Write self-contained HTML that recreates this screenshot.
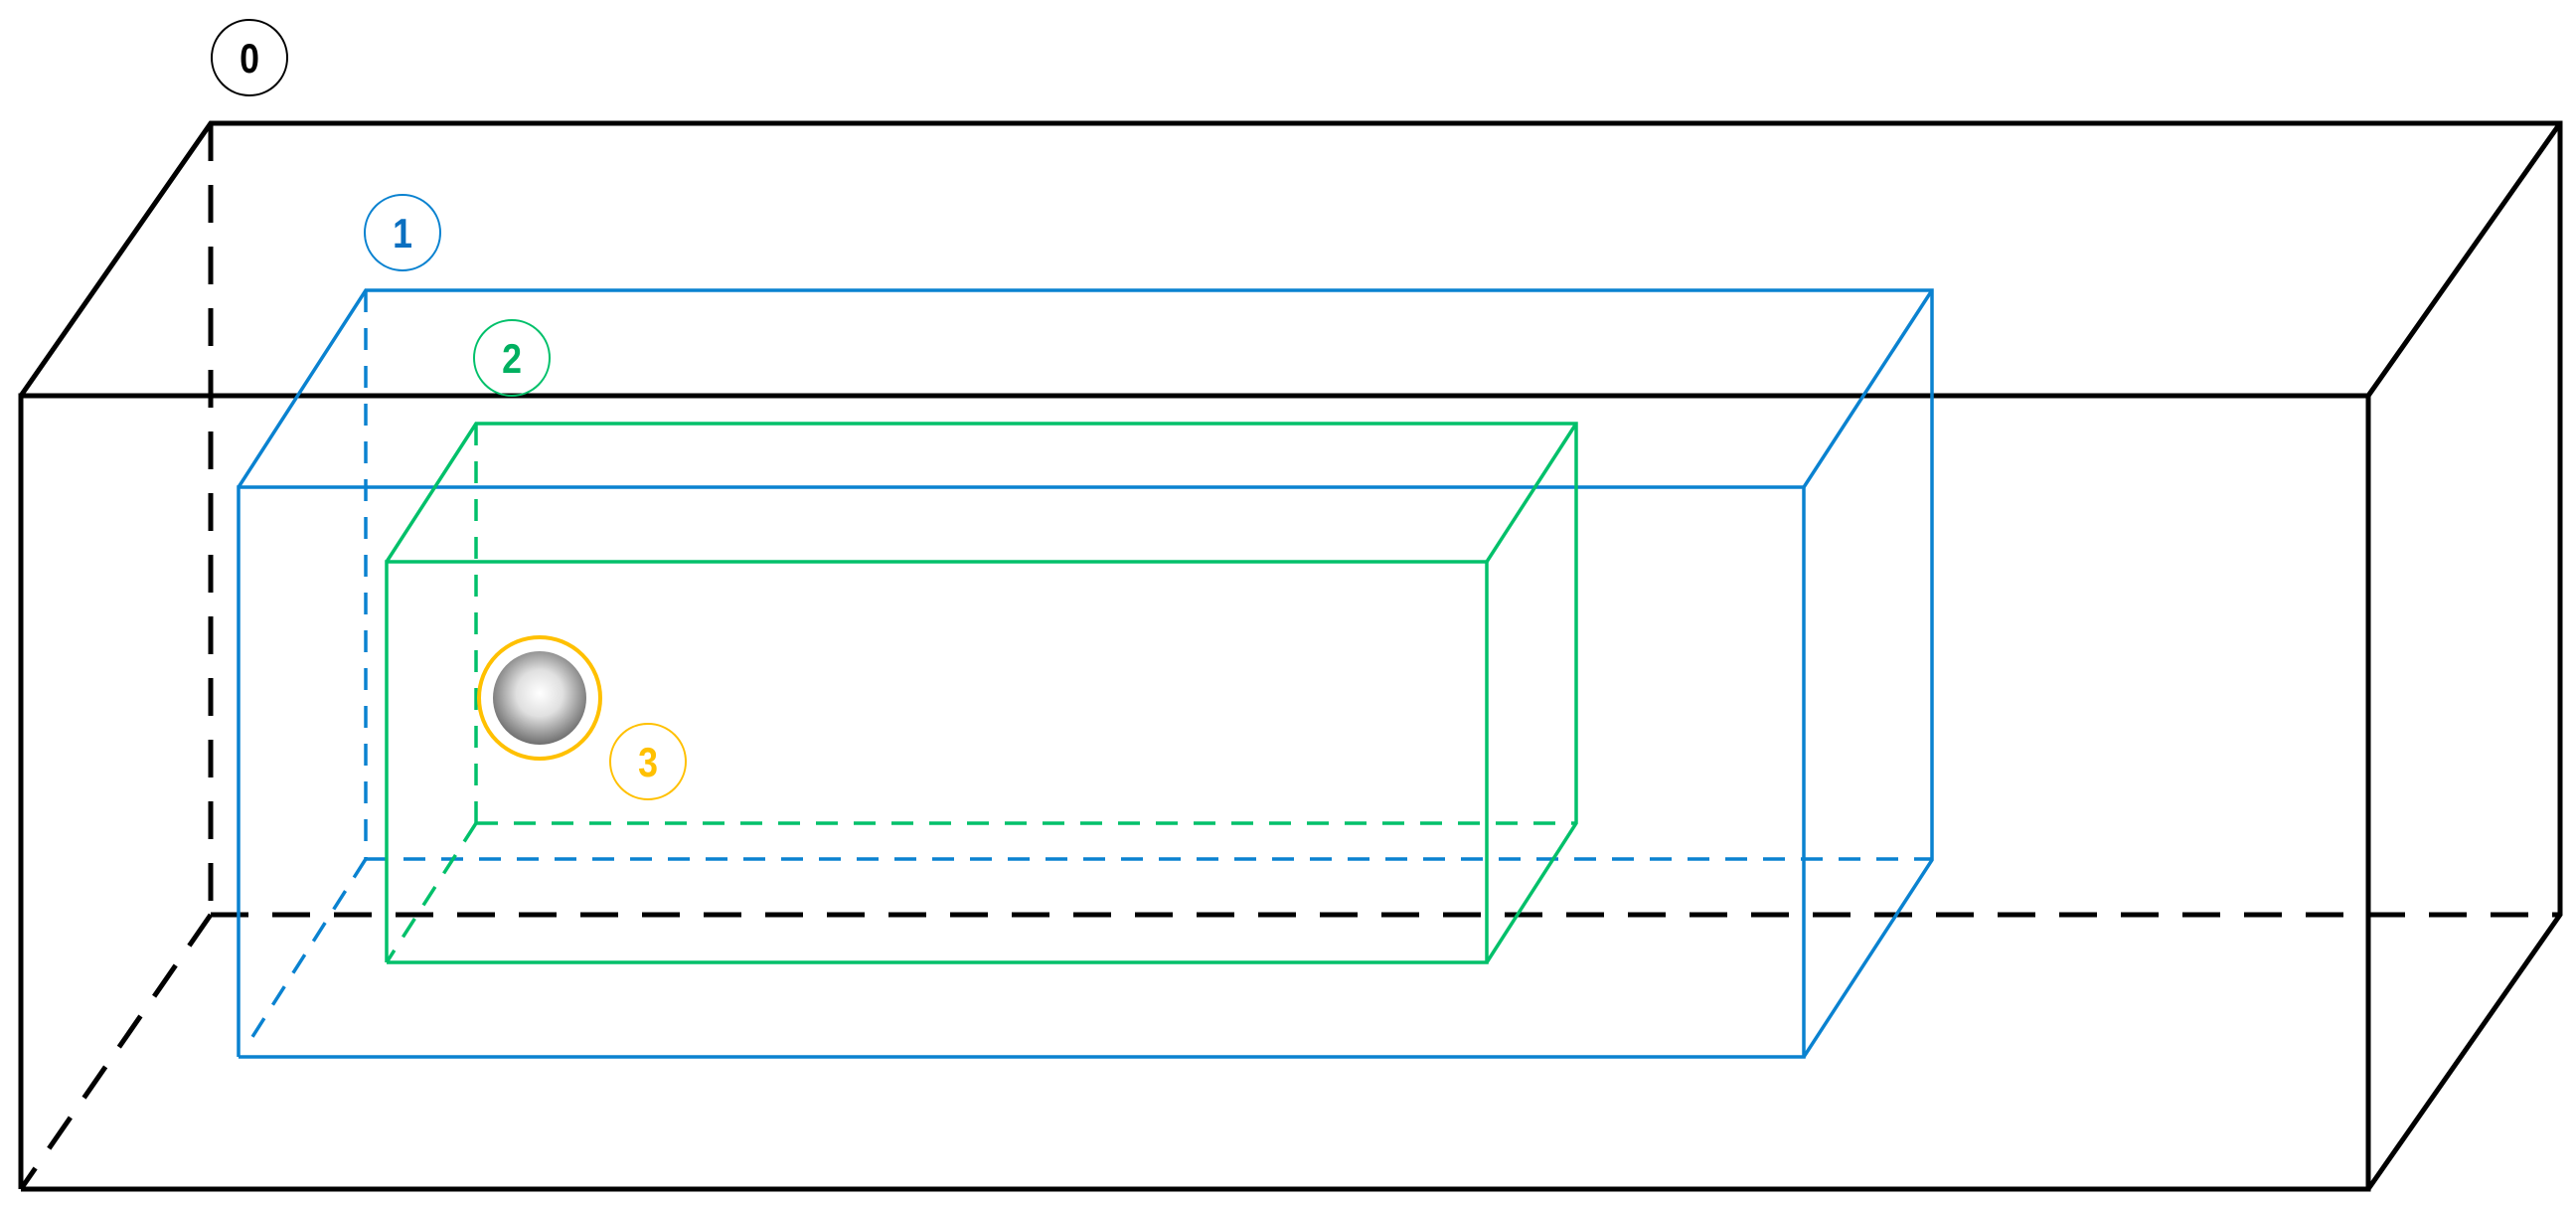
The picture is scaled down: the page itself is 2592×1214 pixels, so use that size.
<!DOCTYPE html>
<html><head><meta charset="utf-8"><style>html,body{margin:0;padding:0;background:#fff}svg{display:block}</style></head>
<body>
<svg width="2592" height="1214" viewBox="0 0 2592 1214" xmlns="http://www.w3.org/2000/svg">
<defs>
<radialGradient id="sg" cx="0.5" cy="0.45" r="0.55">
<stop offset="0" stop-color="#ffffff"/><stop offset="0.45" stop-color="#e0e0e0"/><stop offset="1" stop-color="#6e6e6e"/>
</radialGradient>
</defs>
<g fill="none" stroke-linecap="butt">
<g stroke="#000" stroke-width="5">
<polyline points="21,1196 21,398 2383,398 2383,1196 21,1196"/>
<polyline points="21,398 212,124 2576,124 2576,920 2383,1196"/>
<line x1="2383" y1="398" x2="2576" y2="124"/>
<g stroke-dasharray="38,24">
<line x1="212" y1="124" x2="212" y2="920"/>
<line x1="212" y1="920" x2="2576" y2="920"/>
<line x1="212" y1="920" x2="21" y2="1196"/>
</g>
</g>
<g stroke="#0a82d0" stroke-width="3.5">
<polyline points="240,1063 240,490 1815,490 1815,1063 240,1063"/>
<polyline points="240,490 368,292 1944,292 1944,865 1815,1063"/>
<line x1="1815" y1="490" x2="1944" y2="292"/>
<g stroke-dasharray="22,16">
<line x1="368" y1="292" x2="368" y2="864"/>
<line x1="368" y1="864" x2="1944" y2="864"/>
<line x1="368" y1="864" x2="252" y2="1046"/>
</g>
</g>
<g stroke="#00c06a" stroke-width="3.5">
<polyline points="389,968 389,565 1496,565 1496,968 389,968"/>
<polyline points="389,565 479,426 1586,426 1586,828 1496,968"/>
<line x1="1496" y1="565" x2="1586" y2="426"/>
<g stroke-dasharray="22,16">
<line x1="479" y1="426" x2="479" y2="828"/>
<line x1="479" y1="828" x2="1586" y2="828"/>
<line x1="479" y1="828" x2="389" y2="968"/>
</g>
</g>
<circle cx="251" cy="58" r="38" stroke="#000" stroke-width="2"/>
<circle cx="405" cy="234" r="38" stroke="#0a82d0" stroke-width="2"/>
<circle cx="515" cy="360" r="38" stroke="#00c06a" stroke-width="2"/>
<circle cx="652" cy="766" r="38" stroke="#ffc000" stroke-width="2"/>
<circle cx="543" cy="702" r="61" stroke="#ffc000" stroke-width="4"/>
</g>
<circle cx="543" cy="702" r="47" fill="url(#sg)"/>
<g font-family="Liberation Sans, sans-serif" font-weight="bold" font-size="42" text-anchor="middle">
<text transform="translate(251,73) scale(0.85,1)" fill="#000">0</text>
<text transform="translate(405,249) scale(0.85,1)" fill="#0a6fc0">1</text>
<text transform="translate(515,375) scale(0.85,1)" fill="#00b060">2</text>
<text transform="translate(652,781) scale(0.85,1)" fill="#ffc000">3</text>
</g>
</svg>
</body></html>
